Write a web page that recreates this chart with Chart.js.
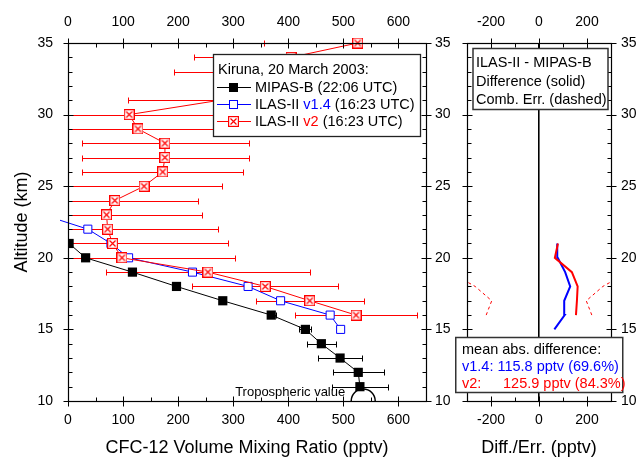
<!DOCTYPE html>
<html>
<head>
<meta charset="utf-8">
<script src="https://cdn.jsdelivr.net/npm/chart.js@4.4.0/dist/chart.umd.min.js"></script>
<style>
  body { margin: 0; background: #fff; }
  #wrap { position: relative; width: 640px; height: 458px; }
  #left { position: absolute; left: 0; top: 0; }
  #right { position: absolute; left: 455px; top: 0; }
</style>
</head>
<body>
<div id="wrap">
  <canvas id="left" width="455" height="458"></canvas>
  <canvas id="right" width="185" height="458"></canvas>
</div>
<script>
// MIPAS-B (22:06 UTC)
const mipasAlt = [11, 12, 13, 14, 15, 16, 17, 18, 19, 20, 21];
const mipasVmr = [530, 527, 494, 460, 431, 369, 281, 197, 117, 32, 2];
const mipasErr = [51, 46, 40, 26, 11, 8, 5, 3, 0, 0, 0];

// ILAS-II v1.4 (16:23 UTC)
const v14Alt = [15, 16, 17, 18, 19, 20, 21, 22, 23];
const v14Vmr = [495, 476, 386, 327, 226, 110, 78, 36, -45];

// ILAS-II v2 (16:23 UTC), with lower / upper error bounds
const v2Alt  = [16, 17, 18, 19, 20, 21, 22, 23, 24, 25, 26, 27, 28, 29, 30, 31, 32, 33, 34, 35];
const v2Vmr  = [523, 439, 358, 254, 98, 81, 72, 70, 85, 138, 172, 176, 176, 127, 111, 275, 440, 350, 405, 526];
const v2Low  = [413, 342, 226, 69, -110, -130, -128, -104, -66, -4, 26, 25, 25, -28, -41, 109, 280, 193, 229, 356];
const v2High = [633, 538, 490, 439, 304, 291, 272, 244, 236, 280, 318, 328, 328, 282, 263, 421, 600, 507, 572, 696];

// tropospheric value (at 10 km)
const tropoVmr = [536];

// combined error of v2 - MIPAS (dashed)
const combAlt = [16, 17, 18, 19];
const combErr = [220, 197, 266, 372];

const meanAbsText = ['mean abs. difference:', 'v1.4: 115.8 pptv (69.6%)', '125.9 pptv (84.3%)'];

Chart.defaults.font.family = "'Liberation Sans', Arial, sans-serif";
Chart.defaults.color = '#000';

function pts(xs, ys) { return xs.map((v, i) => ({x: v, y: ys[i]})); }

function diffTo(alts, vals) {
  const out = [];
  alts.forEach((a, i) => {
    const j = mipasAlt.indexOf(a);
    if (j >= 0) out.push({x: vals[i] - mipasVmr[j], y: a});
  });
  return out;
}

function crossBox(size, color) {
  const c = document.createElement('canvas');
  c.width = c.height = size;
  const g = c.getContext('2d');
  g.fillStyle = '#fff';
  g.fillRect(0, 0, size, size);
  g.strokeStyle = color;
  g.lineWidth = 1.2;
  g.strokeRect(0.6, 0.6, size - 1.2, size - 1.2);
  g.beginPath();
  g.moveTo(2.5, 2.5); g.lineTo(size - 2.5, size - 2.5);
  g.moveTo(size - 2.5, 2.5); g.lineTo(2.5, size - 2.5);
  g.stroke();
  return c;
}
const redMark = crossBox(11, '#ff0000');

// frame + ticks (major cross the axis, minor inside)
const frame = {
  id: 'frame',
  afterDraw(chart) {
    const {ctx, chartArea: a} = chart;
    ctx.save();
    ctx.strokeStyle = '#000';
    ctx.lineWidth = 1.2;
    ctx.strokeRect(Math.round(a.left) + 0.5, Math.round(a.top) + 0.5, Math.round(a.right - a.left), Math.round(a.bottom - a.top));
    ctx.lineWidth = 1;
    ctx.beginPath();
    Object.values(chart.scales).forEach(s => {
      s.ticks.forEach(t => {
        const major = t.label !== '';
        const inn = major ? 5 : 4, out = major ? 5 : 0;
        const p = Math.round(s.getPixelForValue(t.value)) + 0.5;
        if (s.position === 'bottom') { const b = Math.round(a.bottom) + 0.5; ctx.moveTo(p, b - inn); ctx.lineTo(p, b + out); }
        if (s.position === 'top') { const b = Math.round(a.top) + 0.5; ctx.moveTo(p, b + inn); ctx.lineTo(p, b - out); }
        if (s.position === 'left') { const b = Math.round(a.left) + 0.5; ctx.moveTo(b + inn, p); ctx.lineTo(b - out, p); }
        if (s.position === 'right') { const b = Math.round(a.right) + 0.5; ctx.moveTo(b - inn, p); ctx.lineTo(b + out, p); }
      });
    });
    ctx.stroke();
    ctx.restore();
  }
};

const errorBars = {
  id: 'errorBars',
  beforeDatasetsDraw(chart) {
    const {ctx, chartArea: a, scales: {x, y}} = chart;
    ctx.save();
    ctx.beginPath();
    ctx.rect(a.left, a.top - 4, a.right - a.left, a.bottom - a.top + 8);
    ctx.clip();
    ctx.lineWidth = 1;
    const bar = (lo, hi, alt, color) => {
      const x0 = Math.round(x.getPixelForValue(lo)) + 0.5;
      const x1 = Math.round(x.getPixelForValue(hi)) + 0.5;
      const py = Math.round(y.getPixelForValue(alt)) + 0.5;
      ctx.strokeStyle = color;
      ctx.beginPath();
      ctx.moveTo(x0, py); ctx.lineTo(x1, py);
      ctx.moveTo(x0, py - 3); ctx.lineTo(x0, py + 3);
      ctx.moveTo(x1, py - 3); ctx.lineTo(x1, py + 3);
      ctx.stroke();
    };
    v2Alt.forEach((alt, i) => bar(v2Low[i], v2High[i], alt, '#ff0000'));
    mipasAlt.forEach((alt, i) => {
      if (mipasErr[i] > 0) bar(mipasVmr[i] - mipasErr[i], mipasVmr[i] + mipasErr[i], alt, '#000');
    });
    ctx.restore();
  }
};

const leftExtras = {
  id: 'leftExtras',
  afterDraw(chart) {
    const {ctx, scales: {x, y}} = chart;
    ctx.save();
    // tropospheric value
    const cx = x.getPixelForValue(tropoVmr[0]), cy = y.getPixelForValue(10);
    ctx.strokeStyle = '#000';
    ctx.lineWidth = 1.5;
    ctx.beginPath();
    ctx.arc(cx, cy, 12, Math.PI, 0);
    ctx.stroke();
    ctx.font = "13px 'Liberation Sans', Arial, sans-serif";
    ctx.fillStyle = '#000';
    ctx.textAlign = 'right';
    ctx.textBaseline = 'middle';
    ctx.fillText('Tropospheric value', cx - 18, cy - 9);

    // legend box
    const L = 213.5, T = 54.5, W = 207, H = 82;
    ctx.fillStyle = '#fff';
    ctx.fillRect(L, T, W, H);
    ctx.strokeStyle = '#222';
    ctx.lineWidth = 1.3;
    ctx.strokeRect(L, T, W, H);
    ctx.font = "14.5px 'Liberation Sans', Arial, sans-serif";
    ctx.textAlign = 'left';
    ctx.fillStyle = '#000';
    ctx.fillText('Kiruna, 20 March 2003:', 218, 69.5);
    const rows = [
      {y: 87, color: '#000', parts: [['MIPAS-B (22:06 UTC)', '#000']]},
      {y: 104, color: '#0000ff', parts: [['ILAS-II ', '#000'], ['v1.4', '#0000ff'], [' (16:23 UTC)', '#000']]},
      {y: 121, color: '#ff0000', parts: [['ILAS-II ', '#000'], ['v2', '#ff0000'], [' (16:23 UTC)', '#000']]}
    ];
    rows.forEach((r, k) => {
      ctx.strokeStyle = r.color;
      ctx.lineWidth = 1;
      ctx.beginPath();
      ctx.moveTo(217, r.y + 0.5); ctx.lineTo(251, r.y + 0.5);
      ctx.stroke();
      if (k === 0) { ctx.fillStyle = '#000'; ctx.fillRect(229, r.y - 4, 9, 9); }
      if (k === 1) { ctx.fillStyle = '#fff'; ctx.fillRect(229.5, r.y - 3.5, 8, 8); ctx.strokeRect(229.5, r.y - 3.5, 8, 8); }
      if (k === 2) { ctx.drawImage(redMark, 228, r.y - 5); }
      let tx = 255;
      r.parts.forEach(([s, c]) => {
        ctx.fillStyle = c;
        ctx.fillText(s, tx, r.y + 0.5);
        tx += ctx.measureText(s).width;
      });
    });
    ctx.restore();
  }
};

const rightExtras = {
  id: 'rightExtras',
  afterDraw(chart) {
    const {ctx} = chart;
    ctx.save();
    ctx.font = "14.5px 'Liberation Sans', Arial, sans-serif";
    ctx.textBaseline = 'middle';
    ctx.textAlign = 'left';
    // top box
    ctx.fillStyle = '#fff';
    ctx.fillRect(18, 48.5, 135, 61);
    ctx.strokeStyle = '#333';
    ctx.lineWidth = 1.5;
    ctx.strokeRect(18, 48.5, 135, 61);
    ctx.fillStyle = '#000';
    ctx.fillText('ILAS-II - MIPAS-B', 21, 63);
    ctx.fillText('Difference (solid)', 21, 81.5);
    ctx.fillText('Comb. Err. (dashed)', 21, 100);
    // bottom box
    ctx.fillStyle = '#fff';
    ctx.fillRect(0.75, 337.5, 167, 55);
    ctx.strokeRect(0.75, 337.5, 167, 55);
    ctx.fillStyle = '#000';
    ctx.fillText(meanAbsText[0], 7, 349.5);
    ctx.fillStyle = '#0000ff';
    ctx.fillText(meanAbsText[1], 7, 367);
    ctx.fillStyle = '#ff0000';
    ctx.fillText('v2:', 7, 384);
    ctx.fillText(meanAbsText[2], 48, 384);
    ctx.restore();
  }
};

const tickFont = {size: 14};
function xAxis(pos, min, max, step, every, title, h, pad) {
  const o = {
    type: 'linear', position: pos, min: min, max: max,
    ticks: {stepSize: step, autoSkip: false, maxRotation: 0, padding: pad, font: tickFont, includeBounds: false,
            callback: v => (v % every === 0 ? v : '')},
    grid: {display: false, drawTicks: false},
    border: {display: false},
    afterFit: s => { s.height = h; }
  };
  if (title) o.title = {display: true, text: title, font: {size: 18, lineHeight: 1.1}, padding: 0};
  return o;
}
function yAxis(pos, showLabels, title, w, pad) {
  const o = {
    type: 'linear', position: pos, min: 10, max: 35,
    ticks: {stepSize: 1, autoSkip: false, padding: pad, font: tickFont, display: showLabels,
            callback: v => (v % 5 === 0 ? v : '')},
    grid: {display: false, drawTicks: false},
    border: {display: false},
    afterFit: s => { s.width = w; }
  };
  if (title) o.title = {display: true, text: title, font: {size: 18}, padding: {top: 11, bottom: 0}};
  return o;
}

new Chart(document.getElementById('left'), {
  type: 'scatter',
  data: {
    datasets: [
      {label: 'MIPAS-B', data: pts(mipasVmr, mipasAlt), showLine: true, borderColor: '#000', borderWidth: 1,
       pointStyle: 'rect', pointRadius: 6.5, pointBackgroundColor: '#000', pointBorderColor: '#000', pointBorderWidth: 0,
       clip: {left: 0, right: 0, top: 0, bottom: 8}, order: 1},
      {label: 'ILAS-II v1.4', data: pts(v14Vmr, v14Alt), showLine: true, borderColor: '#0000ff', borderWidth: 1,
       pointStyle: 'rect', pointRadius: 5.7, pointBackgroundColor: '#fff', pointBorderColor: '#0000ff', pointBorderWidth: 1,
       clip: {left: 8, right: 0, top: 0, bottom: 0}, order: 3},
      {label: 'ILAS-II v2', data: pts(v2Vmr, v2Alt), showLine: true, borderColor: '#ff0000', borderWidth: 1,
       pointStyle: redMark, pointRadius: 5.5,
       clip: {left: 0, right: 0, top: 8, bottom: 0}, order: 2}
    ]
  },
  options: {
    responsive: false, animation: false, events: [],
    layout: {padding: 0},
    plugins: {legend: {display: false}, tooltip: {enabled: false}},
    scales: {
      x: xAxis('bottom', 0, 650, 50, 100, 'CFC-12 Volume Mixing Ratio (pptv)', 57, 11),
      x2: xAxis('top', 0, 650, 50, 100, null, 43, 12),
      y: yAxis('left', true, 'Altitude (km)', 68, 15),
      y2: yAxis('right', true, null, 29, 9)
    }
  },
  plugins: [errorBars, frame, leftExtras]
});

const rx = xAxis('bottom', -300, 300, 100, 200, 'Diff./Err. (pptv)', 57, 11);
rx.grid = {display: true, drawOnChartArea: true, drawTicks: false, lineWidth: 1.6,
           color: c => (c.tick && c.tick.value === 0 ? '#000' : 'rgba(0,0,0,0)')};

new Chart(document.getElementById('right'), {
  type: 'scatter',
  data: {
    datasets: [
      {data: diffTo(v14Alt, v14Vmr), showLine: true, borderColor: '#0000ff', borderWidth: 2, pointRadius: 0, order: 2},
      {data: diffTo(v2Alt, v2Vmr), showLine: true, borderColor: '#ff0000', borderWidth: 2, pointRadius: 0, order: 1},
      {data: pts(combErr, combAlt), showLine: true, borderColor: '#ff0000', borderWidth: 1, borderDash: [3, 3], pointRadius: 0},
      {data: pts(combErr.map(v => -v), combAlt), showLine: true, borderColor: '#ff0000', borderWidth: 1, borderDash: [3, 3], pointRadius: 0}
    ]
  },
  options: {
    responsive: false, animation: false, events: [],
    layout: {padding: 0},
    plugins: {legend: {display: false}, tooltip: {enabled: false}},
    scales: {
      x: rx,
      x2: xAxis('top', -300, 300, 100, 200, null, 43, 12),
      y: yAxis('left', false, null, 12, 0),
      y2: yAxis('right', true, null, 29, 10)
    }
  },
  plugins: [frame, rightExtras]
});
</script>
</body>
</html>
